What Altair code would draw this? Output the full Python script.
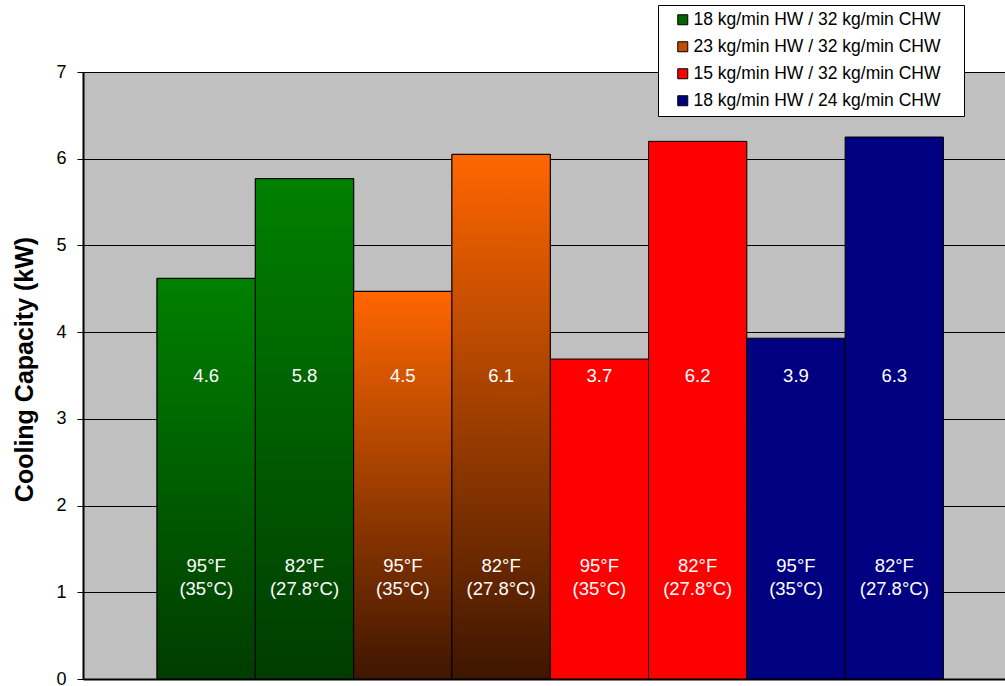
import altair as alt
import pandas as pd

# ---- data ----
series_names = [
    "18 kg/min HW / 32 kg/min CHW",
    "23 kg/min HW / 32 kg/min CHW",
    "15 kg/min HW / 32 kg/min CHW",
    "18 kg/min HW / 24 kg/min CHW",
]
bar_series = [0, 0, 1, 1, 2, 2, 3, 3]
capacity = [4.62, 5.77, 4.47, 6.05, 3.69, 6.20, 3.93, 6.25]
value_labels = ["4.6", "5.8", "4.5", "6.1", "3.7", "6.2", "3.9", "6.3"]
temp_labels = [
    "95°F\n(35°C)", "82°F\n(27.8°C)",
    "95°F\n(35°C)", "82°F\n(27.8°C)",
    "95°F\n(35°C)", "82°F\n(27.8°C)",
    "95°F\n(35°C)", "82°F\n(27.8°C)",
]
y_ticks = [0, 1, 2, 3, 4, 5, 6, 7]

# ---- styles ----
legend_colors = ["#006400", "#C04E00", "#FF0000", "#000080"]
FONT = "Liberation Sans"

green_grad = alt.LinearGradient(
    gradient="linear", x1=0, x2=0, y1=0, y2=1,
    stops=[alt.GradientStop(color="#008000", offset=0),
           alt.GradientStop(color="#003C00", offset=1)],
)
orange_grad = alt.LinearGradient(
    gradient="linear", x1=0, x2=0, y1=0, y2=1,
    stops=[alt.GradientStop(color="#FF6600", offset=0),
           alt.GradientStop(color="#3E1600", offset=1)],
)

df = pd.DataFrame({
    "id": [f"b{i}" for i in range(len(capacity))],
    "series": [series_names[s] for s in bar_series],
    "capacity": capacity,
    "vlabel": value_labels,
    "tlabel": temp_labels,
})
ids = list(df["id"])

x_scale = alt.Scale(domain=ids, paddingInner=0, paddingOuter=0.69, align=0.546)
y_scale = alt.Scale(domain=[0, 7], nice=False)

x_enc = alt.X("id:N", scale=x_scale,
              axis=alt.Axis(labels=False, ticks=False, title=None, grid=False,
                            domainColor="black", domainWidth=2))
y_enc = alt.Y("capacity:Q", scale=y_scale,
              axis=alt.Axis(values=y_ticks, format="d", title="Cooling Capacity (kW)",
                            titleFont=FONT, titleFontSize=25, titleFontWeight="bold",
                            titleColor="black", titleAngle=270, titleX=-59, titleY=297,
                            titleBaseline="middle", titleAlign="center",
                            labelFont=FONT, labelFontSize=18, labelColor="black",
                            labelPadding=11, tickSize=6, tickColor="black",
                            domainColor="black", domainWidth=2,
                            grid=True, gridColor="black", gridWidth=1, gridOpacity=1))

base = alt.Chart(df)

bars_all = base.mark_bar(stroke="black", strokeWidth=1).encode(
    x=x_enc,
    y=y_enc,
    color=alt.Color(
        "series:N",
        scale=alt.Scale(domain=series_names, range=legend_colors),
        legend=alt.Legend(
            title="_", titleColor="white", titleOrient="right", titlePadding=8,
            titleFont=FONT, titleFontSize=17.5,
            orient="none", legendX=575, legendY=-67,
            fillColor="white", strokeColor="black", padding=6,
            symbolType="square", symbolSize=100, symbolStrokeColor="black",
            symbolStrokeWidth=1, symbolOffset=10, labelOffset=2,
            labelFont=FONT, labelFontSize=17.5, labelColor="black", labelLimit=500,
            rowPadding=8,
        ),
    ),
)

green_bars = base.transform_filter(
    alt.datum.series == series_names[0]
).mark_bar(fill=green_grad, stroke="black", strokeWidth=1).encode(
    x=alt.X("id:N", scale=x_scale), y=alt.Y("capacity:Q", scale=y_scale)
)
orange_bars = base.transform_filter(
    alt.datum.series == series_names[1]
).mark_bar(fill=orange_grad, stroke="black", strokeWidth=1).encode(
    x=alt.X("id:N", scale=x_scale), y=alt.Y("capacity:Q", scale=y_scale)
)

value_text = base.mark_text(color="white", font=FONT, fontSize=18.5,
                            baseline="middle").encode(
    x=alt.X("id:N", scale=x_scale, bandPosition=0.5),
    y=alt.datum(3.5),
    text="vlabel:N",
)
temp_text = base.mark_text(color="white", font=FONT, fontSize=18.5, lineBreak="\n",
                           lineHeight=23, baseline="middle").encode(
    x=alt.X("id:N", scale=x_scale, bandPosition=0.5),
    y=alt.datum(1.30),
    text="tlabel:N",
)

chart = alt.layer(bars_all, green_bars, orange_bars, value_text, temp_text).properties(
    width=922, height=607,
    autosize=alt.AutoSizeParams(type="none"),
    padding={"left": 83, "top": 72, "right": 0, "bottom": 7},
    background="white",
).configure_view(fill="#C0C0C0", stroke=None)

chart.save("out.html", embed_options={"renderer": "svg", "actions": False})
